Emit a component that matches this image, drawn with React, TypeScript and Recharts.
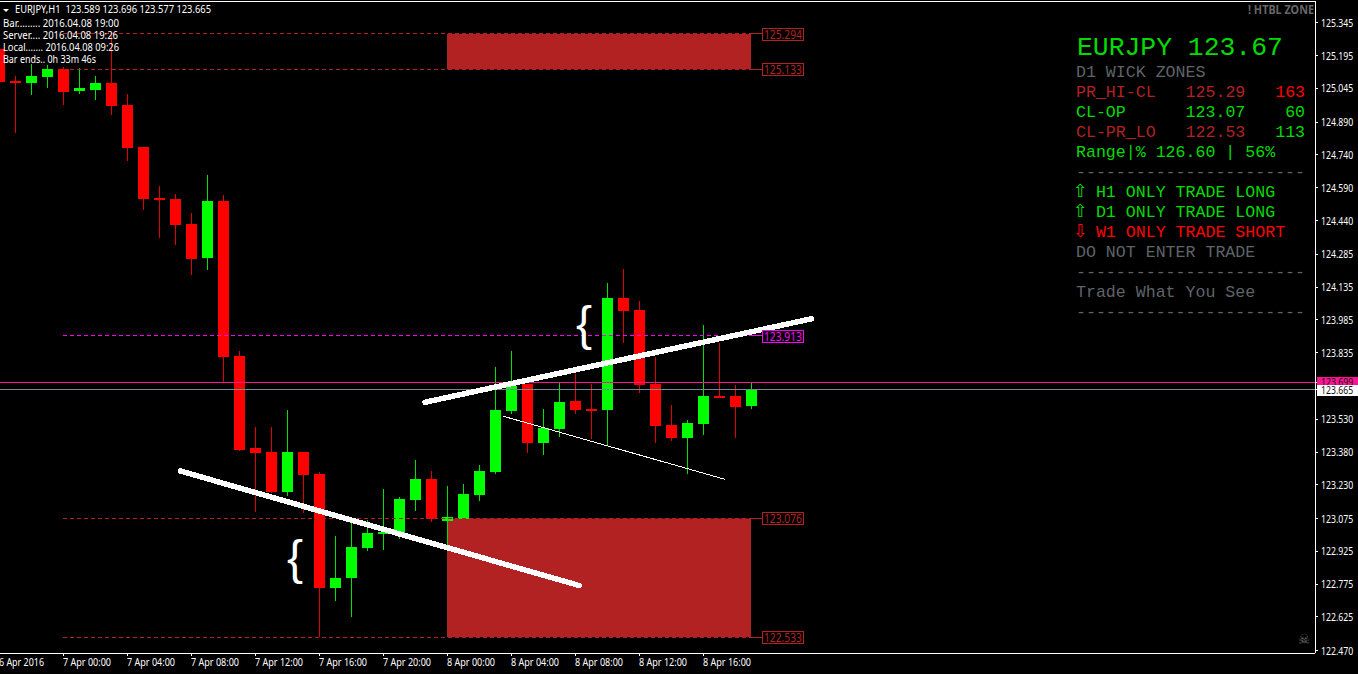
import { Bar, BarChart, ReferenceArea, ReferenceDot, ReferenceLine, XAxis, YAxis } from "recharts";

const UP = "#00ff00";
const DOWN = "#ff0000";
const ZONE = "#b22222";
const MAGENTA = "#ff00ff";
const GRAY = "#5f6468";
const PANEL_GREEN = "#00dc00";
const UI_FONT = '"Noto Sans", "Liberation Sans", sans-serif';
const MONO_FONT = '"Liberation Mono", monospace';

// hours counted from 7 Apr 00:00
const hours = [-4, -3, -2, -1, 0, 1, 2, 3, 4, 5, 6, 7, 8, 9, 10, 11, 12, 13, 14, 15, 16, 17, 18, 19, 20, 21, 22, 23, 24, 25, 26, 27, 28, 29, 30, 31, 32, 33, 34, 35, 36, 37, 38, 39, 40, 41, 42, 43];
const opens = [125.225, 125.079, 125.07, 125.097, 125.134, 125.033, 125.038, 125.07, 124.969, 124.777, 124.543, 124.538, 124.424, 124.268, 124.529, 123.82, 123.398, 123.38, 123.197, 123.38, 123.279, 122.757, 122.803, 122.941, 123.005, 123.009, 123.16, 123.257, 123.064, 123.073, 123.183, 123.288, 123.568, 123.691, 123.421, 123.485, 123.614, 123.577, 123.572, 124.085, 124.03, 123.691, 123.504, 123.444, 123.508, 123.636, 123.636, 123.589];
const highs = [125.244, 125.102, 125.157, 125.152, 125.143, 125.138, 125.102, 125.299, 125.019, 124.777, 124.598, 124.561, 124.474, 124.648, 124.557, 123.843, 123.495, 123.495, 123.572, 123.38, 123.288, 122.996, 123.069, 123.069, 123.211, 123.174, 123.343, 123.293, 123.224, 123.234, 123.321, 123.769, 123.843, 123.691, 123.577, 123.701, 123.737, 123.691, 124.154, 124.218, 124.072, 123.815, 123.595, 123.527, 123.962, 123.879, 123.687, 123.696];
const lows = [125.065, 124.841, 125.015, 125.047, 124.969, 125.019, 124.992, 124.923, 124.712, 124.488, 124.36, 124.328, 124.19, 124.213, 123.701, 123.385, 123.105, 123.192, 123.179, 123.101, 122.533, 122.698, 122.625, 122.927, 122.931, 122.982, 123.11, 123.06, 122.954, 123.073, 123.156, 123.279, 123.554, 123.376, 123.366, 123.449, 123.554, 123.44, 123.412, 123.879, 123.65, 123.421, 123.431, 123.279, 123.458, 123.627, 123.444, 123.577];
const closes = [125.074, 125.07, 125.102, 125.134, 125.028, 125.047, 125.07, 124.964, 124.772, 124.538, 124.534, 124.419, 124.264, 124.529, 123.815, 123.389, 123.376, 123.197, 123.38, 123.275, 122.757, 122.803, 122.945, 123.009, 123.014, 123.165, 123.257, 123.073, 123.082, 123.188, 123.293, 123.572, 123.682, 123.421, 123.49, 123.609, 123.572, 123.572, 124.085, 124.026, 123.687, 123.499, 123.444, 123.513, 123.636, 123.627, 123.586, 123.665];

const priceTicks = [125.345, 125.195, 125.045, 124.89, 124.74, 124.59, 124.44, 124.285, 124.135, 123.985, 123.835, 123.53, 123.38, 123.23, 123.075, 122.925, 122.775, 122.625, 122.47, 123.699, 123.665];
const timeTicks = [-4, 0, 4, 8, 12, 16, 20, 24, 28, 32, 36, 40];
const timeLabels = ["6 Apr 2016", "7 Apr 00:00", "7 Apr 04:00", "7 Apr 08:00", "7 Apr 12:00", "7 Apr 16:00", "7 Apr 20:00", "8 Apr 00:00", "8 Apr 04:00", "8 Apr 08:00", "8 Apr 12:00", "8 Apr 16:00"];

const PRICE_MIN = 122.46;
const PRICE_MAX = 125.445;
const HOUR_MIN = -4;
const HOUR_MAX = 78.25;

const upperZone = [125.133, 125.294];
const lowerZone = [122.533, 123.076];
const zoneStart = 24;
const zoneEnd = 43;
const midLevel = 123.913;
const askPrice = 123.699;
const bidPrice = 123.665;

const thickLines = [
  [{ x: 7.35, y: 123.293 }, { x: 32.25, y: 122.769 }],
  [{ x: 22.625, y: 123.608 }, { x: 46.78, y: 123.99 }],
];
const thinLine = [{ x: 27.52, y: 123.544 }, { x: 41.375, y: 123.255 }];

const infoLines = ["Bar......... 2016.04.08 19:00", "Server.... 2016.04.08 19:26", "Local....... 2016.04.08 09:26", "Bar ends.. 0h 33m 46s"];
const infoWidths = [116, 115, 116, 93];

const candles = hours.map((h, i) => ({ hour: h, open: opens[i], high: highs[i], low: lows[i], close: closes[i] }));

function Candle({ x, y, width, height, payload }: any) {
  const center = Math.round(x + width / 2) - 1;
  const k = height / (payload.high - payload.low);
  const up = payload.close >= payload.open;
  const top = y + (payload.high - Math.max(payload.open, payload.close)) * k;
  const bottom = y + (payload.high - Math.min(payload.open, payload.close)) * k;
  const bodyTop = Math.round(top);
  const bodyH = Math.max(2, Math.round(bottom) - bodyTop);
  return (
    <g shapeRendering="crispEdges">
      <rect x={center} y={y} width={1} height={height} fill={up ? "#00e000" : "#e00000"} />
      <rect x={center - 5} y={bodyTop} width={11} height={bodyH} fill={up ? UP : DOWN} />
    </g>
  );
}

function PriceTag({ cx, cy, value, color }: any) {
  return (
    <g>
      <rect x={cx - 20.5} y={Math.round(cy) - 5.5} width={41} height={12} fill="#000" stroke={color} shapeRendering="crispEdges" />
      <text x={cx} y={cy + 5} fill={color} fontFamily={UI_FONT} fontSize={12} textAnchor="middle" textLength={38} lengthAdjust="spacingAndGlyphs">{value.toFixed(3)}</text>
    </g>
  );
}

function PriceTick({ x, y, payload }: any) {
  const v = payload.value;
  const bg = v === askPrice ? "#ff1493" : v === bidPrice ? "#ffffff" : null;
  return (
    <g>
      {bg && <rect x={x - 4} y={Math.round(y) - 5} width={50} height={11} fill={bg} shapeRendering="crispEdges" />}
      <text transform={`translate(${x},${y + 4}) scale(0.79,1)`} fill={bg ? "#111" : "#fff"} fontFamily={UI_FONT} fontSize={11}>{v.toFixed(3)}</text>
    </g>
  );
}

function TimeTick({ x, y, payload }: any) {
  const label = timeLabels[timeTicks.indexOf(payload.value)];
  return <text x={x} y={y + 9} fill="#fff" fontFamily={UI_FONT} fontSize={11} textLength={label.length === 10 ? 45 : 48} lengthAdjust="spacingAndGlyphs">{label}</text>;
}

const panelRows: { text: string; col: number; row: number; color: string }[] = [
  { text: "D1 WICK ZONES", col: 0, row: 0, color: GRAY },
  { text: "PR_HI-CL", col: 0, row: 1, color: ZONE },
  { text: "125.29", col: 11, row: 1, color: ZONE },
  { text: "163", col: 20, row: 1, color: DOWN },
  { text: "CL-OP", col: 0, row: 2, color: PANEL_GREEN },
  { text: "123.07", col: 11, row: 2, color: PANEL_GREEN },
  { text: "60", col: 21, row: 2, color: PANEL_GREEN },
  { text: "CL-PR_LO", col: 0, row: 3, color: ZONE },
  { text: "122.53", col: 11, row: 3, color: ZONE },
  { text: "113", col: 20, row: 3, color: PANEL_GREEN },
  { text: "Range|% 126.60 | 56%", col: 0, row: 4, color: PANEL_GREEN },
  { text: "-----------------------", col: 0, row: 5, color: GRAY },
  { text: "H1 ONLY TRADE LONG", col: 2, row: 6, color: PANEL_GREEN },
  { text: "D1 ONLY TRADE LONG", col: 2, row: 7, color: PANEL_GREEN },
  { text: "W1 ONLY TRADE SHORT", col: 2, row: 8, color: DOWN },
  { text: "DO NOT ENTER TRADE", col: 0, row: 9, color: GRAY },
  { text: "-----------------------", col: 0, row: 10, color: GRAY },
  { text: "Trade What You See", col: 0, row: 11, color: GRAY },
  { text: "-----------------------", col: 0, row: 12, color: GRAY },
];
const panelArrows = [
  { glyph: "⇧", row: 6, color: PANEL_GREEN },
  { glyph: "⇧", row: 7, color: PANEL_GREEN },
  { glyph: "⇩", row: 8, color: DOWN },
];

function Overlay() {
  return (
    <svg width={1358} height={674} style={{ position: "absolute", left: 0, top: 0 }}>
      <polygon points="3,9 9,9 6,12" fill="#fff" />
      <text x={15} y={13} fill="#fff" fontFamily={UI_FONT} fontSize={11} style={{ whiteSpace: "pre" }} textLength={196} lengthAdjust="spacingAndGlyphs">EURJPY,H1  123.589 123.696 123.577 123.665</text>
      {infoLines.map((line, i) => (
        <text key={i} x={3} y={27 + i * 12} fill="#fff" fontFamily={UI_FONT} fontSize={11} textLength={infoWidths[i]} lengthAdjust="spacingAndGlyphs">{line}</text>
      ))}
      <text x={1248} y={14} fill="#666" fontFamily={UI_FONT} fontWeight="bold" fontSize={12} textLength={66} lengthAdjust="spacingAndGlyphs">! HTBL ZONE</text>
      <text x={1077} y={55} fill={PANEL_GREEN} fontFamily={MONO_FONT} fontSize={26.4}>EURJPY 123.67</text>
      {panelRows.map((r, i) => (
        <text key={i} x={1076 + r.col * 9.96} y={77 + r.row * 20} fill={r.color} fontFamily={MONO_FONT} fontSize={16.6}>{r.text}</text>
      ))}
      {panelArrows.map((a, i) => (
        <text key={i} x={1073} y={77 + a.row * 20} fill={a.color} fontFamily="DejaVu Sans" fontSize={18}>{a.glyph}</text>
      ))}
      <text x={1304} y={644} textAnchor="middle" fill="#6a6a6a" fontFamily="DejaVu Sans" fontSize={14}>☠</text>
      <text x={576} y={340} fill="#fff" fontFamily="Liberation Sans" fontSize={48}>{"{"}</text>
      <text x={287} y={574} fill="#fff" fontFamily="Liberation Sans" fontSize={48}>{"{"}</text>
    </svg>
  );
}

export default function App() {
  const levels = [
    { value: upperZone[1], color: ZONE },
    { value: upperZone[0], color: ZONE },
    { value: midLevel, color: MAGENTA },
    { value: lowerZone[1], color: ZONE },
    { value: lowerZone[0], color: ZONE },
  ];
  return (
    <div style={{ position: "absolute", left: 0, top: 0, width: 1358, height: 674, background: "#000", overflow: "hidden" }}>
      <div style={{ position: "absolute", left: -1, top: 0 }}>
        <BarChart width={1359} height={674} data={candles} margin={{ top: 1, right: 0, bottom: 0, left: 0 }} barSize={11}>
          <XAxis
            dataKey="hour"
            type="number"
            domain={[HOUR_MIN, HOUR_MAX]}
            allowDataOverflow
            ticks={timeTicks}
            interval={0}
            height={21}
            tickSize={3}
            tickMargin={1}
            tick={TimeTick}
            axisLine={{ stroke: "#fff", shapeRendering: "crispEdges" }}
            tickLine={{ stroke: "#fff", shapeRendering: "crispEdges" }}
          />
          <YAxis
            orientation="right"
            type="number"
            domain={[PRICE_MIN, PRICE_MAX]}
            allowDataOverflow
            ticks={priceTicks}
            interval={0}
            width={43}
            tickSize={3}
            tickMargin={3}
            tick={PriceTick}
            axisLine={{ stroke: "#fff", shapeRendering: "crispEdges" }}
            tickLine={{ stroke: "#fff", shapeRendering: "crispEdges" }}
          />
          <ReferenceArea x1={zoneStart} x2={zoneEnd} y1={upperZone[0]} y2={upperZone[1]} fill={ZONE} fillOpacity={1} stroke="none" />
          <ReferenceArea x1={zoneStart} x2={zoneEnd} y1={lowerZone[0]} y2={lowerZone[1]} fill={ZONE} fillOpacity={1} stroke="none" />
          <Bar dataKey={(d: any) => [d.low, d.high]} shape={Candle} isAnimationActive={false} />
          <ReferenceLine y={PRICE_MAX} stroke="#fff" shapeRendering="crispEdges" />
          <ReferenceLine y={askPrice} stroke="#ff1493" shapeRendering="crispEdges" />
          <ReferenceLine y={bidPrice} stroke="#778899" shapeRendering="crispEdges" />
          {levels.map((l) => (
            <ReferenceLine key={l.value} segment={[{ x: 0, y: l.value }, { x: zoneEnd, y: l.value }]} stroke={l.color} strokeDasharray="4 3" shapeRendering="crispEdges" />
          ))}
          {levels.map((l) => (
            <ReferenceLine key={l.value} segment={[{ x: zoneEnd, y: l.value }, { x: 43.7, y: l.value }]} stroke={l.color} shapeRendering="crispEdges" />
          ))}
          {levels.map((l) => (
            <ReferenceDot key={l.value} x={45} y={l.value} shape={(p: any) => <PriceTag {...p} value={l.value} color={l.color} />} />
          ))}
          {thickLines.map((seg, i) => (
            <ReferenceLine key={i} segment={seg} stroke="#fff" strokeWidth={5.5} strokeLinecap="round" shapeRendering="crispEdges" />
          ))}
          <ReferenceLine segment={thinLine} stroke="#fff" strokeWidth={1} shapeRendering="crispEdges" />
        </BarChart>
      </div>
      <Overlay />
    </div>
  );
}
